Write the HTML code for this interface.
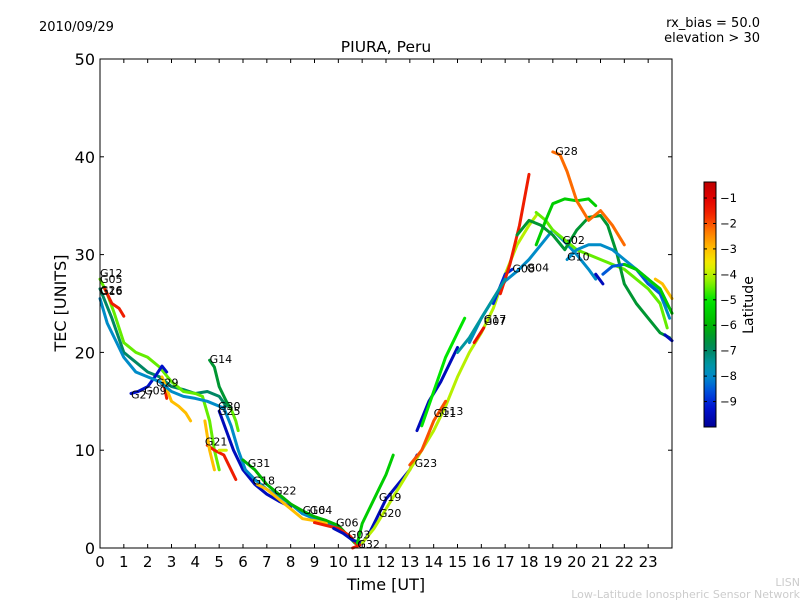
<!DOCTYPE html>
<html><head><meta charset="utf-8"><style>
body{margin:0;background:#fff;}
svg text{font-family:"DejaVu Sans","Liberation Sans",sans-serif;}
</style></head><body>
<svg id="chart" width="800" height="600" viewBox="0 0 800 600" xmlns="http://www.w3.org/2000/svg">
<rect width="800" height="600" fill="#fff"/>
<text x="39" y="31" font-size="13">2010/09/29</text>
<text x="760" y="27" font-size="13" text-anchor="end">rx_bias = 50.0</text>
<text x="760" y="42" font-size="13" text-anchor="end">elevation &gt; 30</text>
<text x="386" y="52" font-size="15.5" text-anchor="middle">PIURA, Peru</text>
<text transform="translate(66,303) rotate(-90)" font-size="16" text-anchor="middle">TEC [UNITS]</text>
<text x="386" y="590" font-size="16" text-anchor="middle">Time [UT]</text>
<g id="plot"></g>
<g id="cbar"></g>
<text transform="translate(753,305) rotate(-90)" font-size="14" text-anchor="middle">Latitude</text>
<text x="800" y="586" font-size="11" fill="#ccc" text-anchor="end">LISN</text>
<text x="800" y="598" font-size="11" fill="#ccc" text-anchor="end">Low-Latitude Ionospheric Sensor Network</text>
</svg>
<script>
const xTicks=[0,1,2,3,4,5,6,7,8,9,10,11,12,13,14,15,16,17,18,19,20,21,22,23];
const yTicks=[0,10,20,30,40,50];
const cbTicks=[-1,-2,-3,-4,-5,-6,-7,-8,-9];
const latMin=-10, latMax=-0.37;
const trackLats=[-7,-4.5,-1.5,-9.3,-1.5,-3,-6.5,-4.5,-9.5,-8,-1.5,-3,-3.8,-6,-3,-1.5,-9.5,-5.5,-4,-1.5,-2,-9.5,-5,-8,-9,-1.5,-4.5,-5.5,-6.5,-2.2,-8,-8.5,-9.5,-9.5,-3,-1.3,-7.5,-5.5];
const trackTimes=[
[0,0.5,1,1.5,2,2.5,3,3.5,4,4.5,5,5.3],
[0,0.3,0.6,1,1.5,2,2.5,3,3.5,4,4.3,4.6,4.8,5.0],
[0.2,0.5,0.8,1.0],
[1.3,1.6,2,2.3,2.6,2.8],
[2.5,2.7,2.8],
[2.6,3,3.3,3.6,3.8],
[4.6,4.8,5,5.3,5.5],
[5.5,5.7,5.8],
[5,5.3,5.6,6,6.5,7,7.5,8],
[0,0.3,0.7,1,1.5,2,2.5,3,3.5,4,4.5,5.2,5.5,5.8,6.1,6.5,7,7.5,8,8.5,9,9.5,10,10.3,10.6],
[4.5,4.8,5.2,5.5,5.7],
[4.4,4.6,4.8],
[5,5.3],
[6,6.5,7,7.5,8,8.5,9,9.5,10,10.5,10.7],
[6.6,7,7.5,8,8.5,9,9.5],
[9,9.5,10,10.5,10.8],
[9.8,10.2,10.6,11,11.3,11.6,12,12.5,13,13.3],
[10.8,11,11.3,11.7,12,12.3],
[11,11.5,12,12.5,13,13.5,14,14.5,15,15.5,16,16.5,17,17.5,18,18.3],
[10.6,10.9],
[13,13.5,14,14.5],
[13.3,13.8,14.3,14.7,15],
[13.5,14,14.5,15,15.3],
[15.5,16,16.5,17,17.5,18,18.5,19,19.5,20,20.5,20.8],
[16.5,17,17.3],
[16.8,17.2,17.6,18],
[18.3,18.7,19,19.5,20,20.5,21,21.5,22,22.5,23,23.5,23.8],
[18.3,18.7,19,19.5,20,20.5,20.8],
[17.5,18,18.5,19,19.5,20,20.5,21,21.3,21.7,22,22.5,23,23.5,23.9],
[19,19.3,19.6,20,20.5,21,21.5,22],
[19.6,20,20.5,21,21.5,22,22.5,23,23.5,23.9],
[21.1,21.5,22,22.5,23,23.5,23.9],
[20.8,21.1],
[23.7,24],
[23.3,23.6,24],
[15.7,16.1],
[15,15.5,16,16.5,17],
[22,22.5,23,23.5,24]
];
const trackTec=[
[26.5,23.5,20,19,18,17.5,16.5,16.2,15.8,16,15.5,14.5],
[27.5,26,24,21,20,19.5,18.5,17,16,15.8,15.5,13,10,8],
[26.5,25,24.5,23.7],
[15.8,16,16.5,17.5,18.6,18],
[17,16.5,15.3],
[17.5,15,14.5,13.8,13],
[19.2,18.5,16.5,15,14.2],
[14.2,13,12],
[14,12,10,8,6.5,5.5,4.8,4.2],
[25.5,23,21,19.5,18,17.5,17,16,15.5,15.3,15,14.3,12.5,10,8,7,6,5.3,4.5,3.5,3,2.5,2,1.5,0.8],
[10.5,10,9.5,8,7],
[13,10,8],
[10,10],
[9,8,6.5,5.5,4.5,3.8,3.2,2.8,2.3,1,0.5],
[6.5,6,5,4,3,2.8,2.5],
[2.6,2.3,2,1.2,0.3],
[2,1.5,0.8,0.5,1.5,3,5,6.5,8,9.5],
[0.5,2.5,4,6,7.5,9.5],
[0.5,2,4,6,8,10,12,14.5,17.5,20,22,24.5,28,31,33,34],
[0,0.3],
[8.5,10,13,15],
[12,15,17,19,20.5],
[12.5,16,19.5,22,23.5],
[21,23.5,25.5,27.3,28.3,29.5,31,32.5,31.3,30,28.5,27.5],
[25,28,28.5],
[26,29,33,38.2],
[34.3,33.5,32.5,31.5,30.5,30,29.5,29,28.5,27.5,26.5,25,22.5],
[31,33.5,35.2,35.7,35.5,35.7,35],
[32,33.5,33,32,30.5,32.5,33.8,34,33,30,27,25,23.5,22,21.5],
[40.5,40.2,38.5,35.5,33.5,34.5,33,31],
[29.5,30.5,31,31,30.5,29.5,28.5,27.5,26,23.5],
[28,28.8,29,28.5,27,26,24.5],
[28,27],
[21.8,21.2],
[27.5,27,25.5],
[21,22.5],
[20,21.5,23.5,25.5,27.5],
[29,28.5,27.5,26.5,24]
];
const labelNames=["G12","G05","G26","G16","G27","G09","G29","G14","G30","G25","G21","G31","G18","G22","G16","G04","G06","G03","G32","G19","G20","G23","G11","G13","G17","G07","G08","G04","G28","G02","G10"];
const labelT=[0,0,0,0,1.3,1.85,2.35,4.6,4.95,4.95,4.4,6.2,6.4,7.3,8.5,8.8,9.9,10.4,10.8,11.7,11.7,13.2,14,14.3,16.1,16.1,17.3,17.9,19.1,19.4,19.6];
const labelV=[28.1,27.5,26.4,26.3,15.7,16.1,16.9,19.3,14.5,14,10.9,8.7,6.9,5.9,3.9,3.9,2.6,1.4,0.4,5.2,3.6,8.7,13.8,14,23.4,23.2,28.6,28.7,40.6,31.5,29.8];

const NS="http://www.w3.org/2000/svg";
const L=100,R=672,T=59,B=548;
const xs=t=>L+(R-L)*t/24;
const ys=v=>B-(B-T)*v/50;
// custom colormap stops (latitude -> rgb)
const cmap=[[-10,[0,0,150]],[-9.2,[0,20,210]],[-8.6,[0,80,220]],[-8,[0,140,200]],[-7.5,[0,150,160]],[-7,[0,135,100]],[-6.5,[0,150,50]],[-6,[0,180,0]],[-5,[0,230,0]],[-4.3,[140,240,0]],[-3.6,[240,240,0]],[-3,[255,190,0]],[-2.3,[255,120,0]],[-1.7,[245,40,0]],[-1,[225,0,0]],[-0.37,[190,0,0]]];
function latColor(lat){
 lat=Math.max(latMin,Math.min(latMax,lat));
 for(let i=0;i<cmap.length-1;i++){const a=cmap[i],b=cmap[i+1];
  if(lat<=b[0]){const f=(lat-a[0])/(b[0]-a[0]);const c=a[1].map((v,k)=>Math.round(v+(b[1][k]-v)*f));return `rgb(${c[0]},${c[1]},${c[2]})`;}}
 return 'rgb(190,0,0)';
}
function mk(tag,attrs,parent){const e=document.createElementNS(NS,tag);for(const k in attrs)e.setAttribute(k,attrs[k]);parent.appendChild(e);return e;}
const plot=document.getElementById('plot');
trackTimes.forEach((ts,i)=>{
 const pts=ts.map((t,j)=>xs(t).toFixed(1)+','+ys(trackTec[i][j]).toFixed(1)).join(' ');
 const pl=mk('polyline',{points:pts,fill:'none',stroke:latColor(trackLats[i]),'stroke-width':3,'stroke-linejoin':'round','stroke-linecap':'round'},plot);
 
 
});
labelNames.forEach((n,i)=>{
 const tx=mk('text',{x:xs(labelT[i]),y:ys(labelV[i])+4,'font-size':11},plot);
 tx.textContent=n;
 
 
});
const frame=mk('rect',{x:L,y:T,width:R-L,height:B-T,fill:'none',stroke:'#000','stroke-width':1},plot);


xTicks.forEach(t=>{
 const x=xs(t);
 mk('line',{x1:x,x2:x,y1:B,y2:B-4,stroke:'#000'},plot);
 mk('line',{x1:x,x2:x,y1:T,y2:T+4,stroke:'#000'},plot);
 const tx=mk('text',{x:x,y:B+19,'font-size':15,'text-anchor':'middle'},plot);
 tx.textContent=t;
 
 
});
yTicks.forEach(v=>{
 const y=ys(v);
 mk('line',{x1:L,x2:L+4,y1:y,y2:y,stroke:'#000'},plot);
 mk('line',{x1:R,x2:R-4,y1:y,y2:y,stroke:'#000'},plot);
 const tx=mk('text',{x:L-5,y:y+6,'font-size':16,'text-anchor':'end'},plot);
 tx.textContent=v;
 
 
});
const cb=document.getElementById('cbar');
const cT=182,cB=427,cL=704,cW=12;
const cy=lat=>cB-(cB-cT)*(lat-latMin)/(latMax-latMin);
const defs=mk('defs',{},cb);
const gr=mk('linearGradient',{id:'jetg',x1:0,y1:1,x2:0,y2:0},defs);
for(let i=0;i<=40;i++){const lat=latMin+(latMax-latMin)*i/40;mk('stop',{offset:i/40,'stop-color':latColor(lat)},gr);}
const cr=mk('rect',{x:cL,y:cT,width:cW,height:cB-cT,fill:'url(#jetg)',stroke:'#000','stroke-width':1},cb);


cbTicks.forEach(v=>{
 const y=cy(v);
 mk('line',{x1:cL+cW-3,x2:cL+cW,y1:y,y2:y,stroke:'#000'},cb);
 mk('line',{x1:cL,x2:cL+3,y1:y,y2:y,stroke:'#000'},cb);
 const tx=mk('text',{x:cL+cW+4,y:y+4,'font-size':11.5},cb);
 tx.textContent='\u2212'+Math.abs(v);
 
 
});
</script>
</body></html>
